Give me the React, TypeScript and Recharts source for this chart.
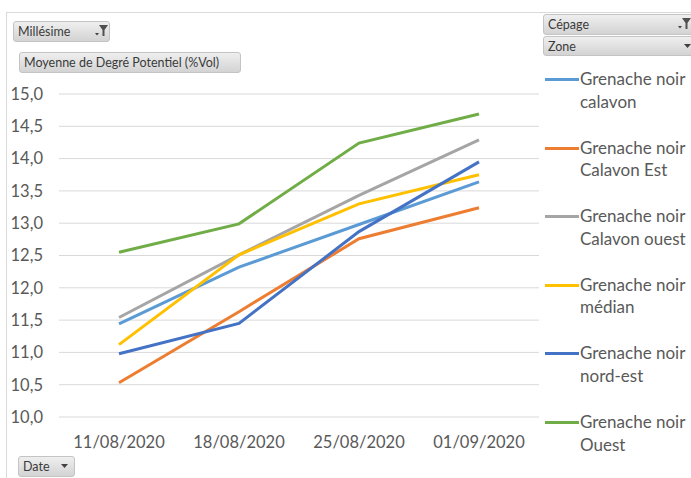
import React from 'react';
import { LineChart, Line, XAxis, YAxis, CartesianGrid } from 'recharts';

// Sampling dates (x categories)
const dates = ['11/08/2020', '18/08/2020', '25/08/2020', '01/09/2020'];

// Average potential degree (%Vol) per zone
const calavon = [11.44, 12.32, 12.98, 13.64];
const calavonEst = [10.53, 11.63, 12.76, 13.24];
const calavonOuest = [11.54, 12.51, 13.43, 14.29];
const median = [11.12, 12.51, 13.3, 13.75];
const nordEst = [10.98, 11.45, 12.87, 13.95];
const ouest = [12.55, 12.99, 14.24, 14.69];

const yTicks = [10, 10.5, 11, 11.5, 12, 12.5, 13, 13.5, 14, 14.5, 15];

const series = [
  { key: 'calavon', line1: 'Grenache noir', line2: 'calavon', color: '#5B9BD5', values: calavon },
  { key: 'calavonEst', line1: 'Grenache noir', line2: 'Calavon Est', color: '#ED7D31', values: calavonEst },
  { key: 'calavonOuest', line1: 'Grenache noir', line2: 'Calavon ouest', color: '#A5A5A5', values: calavonOuest },
  { key: 'median', line1: 'Grenache noir', line2: 'médian', color: '#FFC000', values: median },
  { key: 'nordEst', line1: 'Grenache noir', line2: 'nord-est', color: '#4472C4', values: nordEst },
  { key: 'ouest', line1: 'Grenache noir', line2: 'Ouest', color: '#70AD47', values: ouest },
];

const data = dates.map((date, i) => {
  const row: Record<string, string | number> = { date };
  series.forEach((s) => {
    row[s.key] = s.values[i];
  });
  return row;
});

const FONT = 'Lato, "Open Sans", sans-serif';
const TEXT = '#595959';

const btnBase: React.CSSProperties = {
  position: 'absolute',
  boxSizing: 'border-box',
  background: 'linear-gradient(#efefef, #d3d3d3)',
  border: '1px solid #c4c4c4',
  borderRadius: 3,
  fontFamily: FONT,
  fontSize: 12.5,
  color: '#3a3a3a',
  paddingLeft: 4,
  display: 'flex',
  alignItems: 'center',
  whiteSpace: 'nowrap',
  overflow: 'hidden',
};

const Arrow = ({ x, y }: { x: number; y: number }) => (
  <svg style={{ position: 'absolute', left: x, top: y }} width={8} height={5}>
    <polygon points="0,0 7,0 3.5,4" fill="#404040" />
  </svg>
);

const Funnel = ({ x, y }: { x: number; y: number }) => (
  <svg style={{ position: 'absolute', left: x, top: y }} width={14} height={12}>
    <polygon points="4,0 13,0 9.5,5 9.5,11 7.5,11 7.5,5" fill="#505050" />
    <polygon points="0,8 4,8 2,10.5" fill="#404040" />
  </svg>
);

const Button = ({
  label,
  left,
  top,
  width,
  height,
  children,
}: {
  label: string;
  left: number;
  top: number;
  width: number;
  height: number;
  children?: React.ReactNode;
}) => (
  <div style={{ ...btnBase, left, top, width, height }}>
    {label}
    {children}
  </div>
);

export default function App() {
  return (
    <div
      style={{
        position: 'absolute',
        left: 0,
        top: 0,
        width: 691,
        height: 478,
        background: '#fff',
        overflow: 'hidden',
        fontFamily: FONT,
      }}
    >
      <LineChart
        width={691}
        height={478}
        data={data}
        margin={{ top: 94, right: 152, bottom: 31, left: 0 }}
      >
        <CartesianGrid vertical={false} stroke="#d9d9d9" strokeWidth={1} />
        <XAxis
          dataKey="date"
          axisLine={false}
          tickLine={false}
          height={30}
          tickMargin={13}
          padding={{ left: 60, right: 60 }}
          tick={{ fill: TEXT, fontSize: 16.5, fontFamily: FONT }}
          interval={0}
        />
        <YAxis
          width={59}
          domain={[10, 15]}
          ticks={yTicks}
          axisLine={false}
          tickLine={false}
          tickMargin={10}
          tick={{ fill: TEXT, fontSize: 16.5, fontFamily: FONT }}
          tickFormatter={(v: number) => v.toFixed(1).replace('.', ',')}
        />
        {series.map((s) => (
          <Line
            key={s.key}
            dataKey={s.key}
            name={`${s.line1} ${s.line2}`}
            stroke={s.color}
            strokeWidth={3}
            dot={false}
            activeDot={false}
            isAnimationActive={false}
          />
        ))}
      </LineChart>

      {/* chart frame */}
      <div
        style={{
          position: 'absolute',
          left: 6,
          top: 12,
          width: 700,
          height: 480,
          borderTop: '1px solid #d9d9d9',
          borderLeft: '1px solid #d9d9d9',
          pointerEvents: 'none',
        }}
      />

      {/* legend */}
      {series.map((s, i) => {
        const top = 68 + i * 68.6;
        return (
          <div key={s.key}>
            <div
              style={{
                position: 'absolute',
                left: 545,
                top: top + 10,
                width: 34,
                height: 3,
                background: s.color,
              }}
            />
            <div
              style={{
                position: 'absolute',
                left: 580,
                top,
                fontFamily: FONT,
                fontSize: 17,
                lineHeight: '22.5px',
                color: TEXT,
                whiteSpace: 'nowrap',
              }}
            >
              <div>{s.line1}</div>
              <div>{s.line2}</div>
            </div>
          </div>
        );
      })}

      {/* pivot field buttons */}
      <Button label="Millésime" left={13} top={21} width={97} height={21}>
        <Funnel x={81} y={3} />
      </Button>
      <Button label="Moyenne de Degré Potentiel (%Vol)" left={19} top={52} width={222} height={21} />
      <Button label="Cépage" left={543} top={14} width={152} height={21}>
        <Funnel x={134} y={3} />
      </Button>
      <Button label="Zone" left={543} top={36} width={152} height={20}>
        <Arrow x={140} y={7} />
      </Button>
      <Button label="Date" left={18} top={456} width={57} height={21}>
        <Arrow x={42} y={7} />
      </Button>
    </div>
  );
}
